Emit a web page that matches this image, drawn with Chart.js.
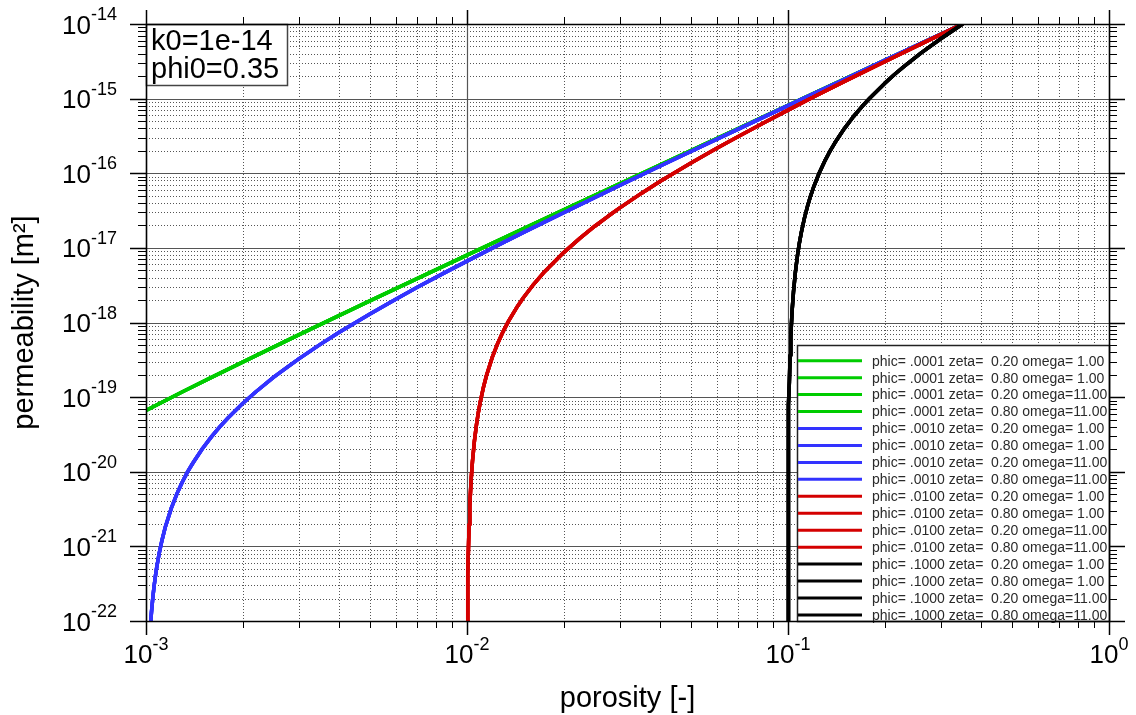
<!DOCTYPE html>
<html>
<head>
<meta charset="utf-8">
<script src="https://cdn.jsdelivr.net/npm/chart.js@4.4.1/dist/chart.umd.min.js"></script>
<style>
html, body { margin: 0; padding: 0; background: #fff; }
</style>
</head>
<body>
<canvas id="permChart" width="1136" height="715"></canvas>
<script>
// curves (porosity [-] vs permeability [m2])
const greenPhi = [0.001, 0.0013, 0.0016, 0.002, 0.003, 0.005, 0.01, 0.02, 0.05, 0.1, 0.2, 0.35];
const greenK   = [6.62e-20, 1.18e-19, 1.84e-19, 2.95e-19, 6.87e-19, 1.96e-18, 8.0e-18, 3.23e-17, 2.03e-16, 8.15e-16, 3.26e-15, 1e-14];

const bluePhi = [0.0010349, 0.00104, 0.00105, 0.00106, 0.00107, 0.00108, 0.0011, 0.00112, 0.00115, 0.0012, 0.00125,
                 0.0013, 0.00135, 0.0014, 0.0015, 0.0016, 0.0017, 0.0018, 0.002, 0.0022, 0.0025, 0.00275, 0.003,
                 0.0035, 0.004, 0.005, 0.006, 0.007, 0.0085, 0.01, 0.0125, 0.015, 0.02, 0.03, 0.04, 0.05, 0.07,
                 0.1, 0.15, 0.2, 0.27, 0.35];
const blueK   = [1e-22, 1.31e-22, 2.05e-22, 2.96e-22, 4.02e-22, 5.25e-22, 8.21e-22, 1.18e-21, 1.85e-21, 3.28e-21, 5.13e-21,
                 7.39e-21, 1.01e-20, 1.31e-20, 2.05e-20, 2.96e-20, 4.02e-20, 5.25e-20, 8.21e-20, 1.18e-19, 1.85e-19, 2.51e-19, 3.28e-19,
                 5.13e-19, 7.39e-19, 1.31e-18, 2.05e-18, 2.96e-18, 4.62e-18, 6.65e-18, 1.09e-17, 1.61e-17, 2.96e-17, 6.90e-17, 1.25e-16, 1.97e-16, 3.91e-16,
                 8.05e-16, 1.82e-15, 3.25e-15, 5.94e-15, 1e-14];

const redPhi = [0.010034, 0.01004, 0.01005, 0.01007, 0.0101, 0.01015, 0.0102, 0.0103, 0.0104, 0.01055, 0.0107,
                0.01085, 0.011, 0.01125, 0.0115, 0.012, 0.0125, 0.013, 0.0135, 0.01425, 0.015, 0.016, 0.0175,
                0.02, 0.0225, 0.025, 0.0275, 0.03, 0.035, 0.04, 0.05, 0.06, 0.07, 0.085, 0.1, 0.12, 0.15,
                0.2, 0.27, 0.35];
const redK   = [1e-22, 1.38e-22, 2.16e-22, 4.24e-22, 8.65e-22, 1.95e-21, 3.46e-21, 7.79e-21, 1.38e-20, 2.62e-20, 4.24e-20,
                6.25e-20, 8.65e-20, 1.35e-19, 1.95e-19, 3.46e-19, 5.41e-19, 7.79e-19, 1.06e-18, 1.56e-18, 2.16e-18, 3.11e-18, 4.87e-18,
                8.65e-18, 1.35e-17, 1.95e-17, 2.65e-17, 3.46e-17, 5.41e-17, 7.79e-17, 1.38e-16, 2.16e-16, 3.11e-16, 4.87e-16, 7.01e-16, 1.05e-15, 1.70e-15,
                3.12e-15, 5.85e-15, 1e-14];

const blackPhi = [0.100025, 0.10005, 0.1001, 0.1002, 0.1003, 0.1005, 0.1007, 0.101, 0.1015, 0.102, 0.103,
                  0.104, 0.1055, 0.107, 0.1085, 0.11, 0.1125, 0.115, 0.1175, 0.12, 0.125, 0.13, 0.135,
                  0.14, 0.15, 0.16, 0.17, 0.18, 0.2, 0.215, 0.23, 0.26, 0.3, 0.35];
const blackK   = [1e-22, 4e-22, 1.6e-21, 6.4e-21, 1.44e-20, 4e-20, 7.84e-20, 1.6e-19, 3.6e-19, 6.4e-19, 1.44e-18,
                  2.56e-18, 4.84e-18, 7.84e-18, 1.16e-17, 1.6e-17, 2.5e-17, 3.6e-17, 4.9e-17, 6.4e-17, 1.0e-16, 1.44e-16, 1.96e-16,
                  2.56e-16, 4.0e-16, 5.76e-16, 7.84e-16, 1.02e-15, 1.6e-15, 2.12e-15, 2.70e-15, 4.10e-15, 6.4e-15, 1e-14];

// legend pieces
const phicLabels = ['.0001', '.0010', '.0100', '.1000'];
const zetaLabels = ['0.20', '0.80'];
const omegaLabels = [' 1.00', '11.00'];

// axis ticks
const xMajor = [1e-3, 1e-2, 1e-1, 1];
const xExp = ['-3', '-2', '-1', '0'];
const yMajor = [1e-22, 1e-21, 1e-20, 1e-19, 1e-18, 1e-17, 1e-16, 1e-15, 1e-14];
const yExp = ['-22', '-21', '-20', '-19', '-18', '-17', '-16', '-15', '-14'];

const noteLines = ['k0=1e-14', 'phi0=0.35'];

const FONT = '"Liberation Sans", Arial, sans-serif';

const curves = [
    { phi: greenPhi, k: greenK, color: '#00cc00', order: 4 },
    { phi: bluePhi, k: blueK, color: '#3333ff', order: 3 },
    { phi: redPhi, k: redK, color: '#d40000', order: 2 },
    { phi: blackPhi, k: blackK, color: '#000000', order: 1 }
];

const datasets = [];
curves.forEach((c, ci) => {
    const pts = c.phi.map((p, i) => ({ x: p, y: c.k[i] }));
    omegaLabels.forEach(om => {
        zetaLabels.forEach(z => {
            datasets.push({
                label: 'phic= ' + phicLabels[ci] + ' zeta=  ' + z + ' omega=' + om,
                data: pts,
                borderColor: c.color,
                backgroundColor: c.color,
                borderWidth: 3.5,
                pointRadius: 0,
                showLine: true,
                order: c.order
            });
        });
    });
});

function minorValues(majors) {
    const out = [];
    for (let i = 0; i < majors.length - 1; i++) {
        for (let m = 2; m <= 9; m++) out.push(majors[i] * m);
    }
    return out;
}

function seg(ctx, x1, y1, x2, y2) {
    ctx.beginPath();
    ctx.moveTo(x1, y1);
    ctx.lineTo(x2, y2);
    ctx.stroke();
}

// grid, frame, ticks, labels, note box and legend
const framePlugin = {
    id: 'frame',
    beforeDatasetsDraw(chart) {
        const { ctx, chartArea: a, scales: { x, y } } = chart;
        ctx.save();
        ctx.lineWidth = 1;
        ctx.strokeStyle = '#555';
        ctx.setLineDash([1, 2]);
        minorValues(xMajor).forEach(v => {
            const px = Math.round(x.getPixelForValue(v)) + 0.5;
            seg(ctx, px, a.top, px, a.bottom);
        });
        minorValues(yMajor).forEach(v => {
            const py = Math.round(y.getPixelForValue(v)) + 0.5;
            seg(ctx, a.left, py, a.right, py);
        });
        ctx.setLineDash([]);
        ctx.strokeStyle = '#555';
        ctx.lineWidth = 1.2;
        xMajor.forEach(v => {
            const px = Math.round(x.getPixelForValue(v)) + 0.5;
            seg(ctx, px, a.top, px, a.bottom);
        });
        yMajor.forEach(v => {
            const py = Math.round(y.getPixelForValue(v)) + 0.5;
            seg(ctx, a.left, py, a.right, py);
        });
        ctx.restore();
    },
    afterDatasetsDraw(chart) {
        const { ctx, chartArea: a, scales: { x, y } } = chart;
        ctx.save();

        // ticks outside the frame
        ctx.strokeStyle = '#000';
        ctx.lineWidth = 1;
        minorValues(xMajor).forEach(v => {
            const px = Math.round(x.getPixelForValue(v)) + 0.5;
            seg(ctx, px, a.bottom, px, a.bottom + 7);
            seg(ctx, px, a.top, px, a.top - 7);
        });
        minorValues(yMajor).forEach(v => {
            const py = Math.round(y.getPixelForValue(v)) + 0.5;
            seg(ctx, a.left, py, a.left - 8, py);
            seg(ctx, a.right, py, a.right + 8, py);
        });
        ctx.lineWidth = 1.5;
        xMajor.forEach(v => {
            const px = Math.round(x.getPixelForValue(v)) + 0.5;
            seg(ctx, px, a.bottom, px, a.bottom + 14);
            seg(ctx, px, a.top, px, a.top - 14);
        });
        yMajor.forEach(v => {
            const py = Math.round(y.getPixelForValue(v)) + 0.5;
            seg(ctx, a.left, py, a.left - 16, py);
            seg(ctx, a.right, py, a.right + 16, py);
        });

        // note box
        ctx.fillStyle = '#fff';
        ctx.fillRect(a.left, a.top, 141, 61);
        ctx.strokeStyle = '#444';
        ctx.lineWidth = 1.5;
        ctx.strokeRect(a.left + 0.5, a.top + 0.5, 141, 61);
        ctx.fillStyle = '#000';
        ctx.font = '29px ' + FONT;
        ctx.textAlign = 'left';
        ctx.textBaseline = 'alphabetic';
        noteLines.forEach((t, i) => ctx.fillText(t, a.left + 5, a.top + 26 + i * 28));

        // legend
        const lw = 312, lh = 276;
        const lx = a.right - lw, ly = a.bottom - lh;
        ctx.fillStyle = '#fff';
        ctx.fillRect(lx, ly, lw, lh);
        ctx.strokeStyle = '#222';
        ctx.lineWidth = 1.5;
        ctx.strokeRect(lx + 0.5, ly + 0.5, lw, lh);
        ctx.font = '14px ' + FONT;
        ctx.textBaseline = 'middle';
        chart.data.datasets.forEach((ds, i) => {
            const yy = ly + 15.7 + i * 16.95;
            ctx.strokeStyle = ds.borderColor;
            ctx.lineWidth = 3;
            seg(ctx, lx + 1, yy, lx + 65, yy);
            ctx.fillStyle = '#2a2a2a';
            ctx.fillText(ds.label, lx + 75, yy + 1);
        });

        // frame
        ctx.strokeStyle = '#000';
        ctx.lineWidth = 1.5;
        ctx.strokeRect(a.left + 0.5, a.top + 0.5, a.right - a.left, a.bottom - a.top);

        // tick labels: 10 with superscript exponent
        ctx.fillStyle = '#000';
        ctx.textBaseline = 'alphabetic';
        ctx.textAlign = 'left';
        const big = '26px ' + FONT, small = '18px ' + FONT;
        xMajor.forEach((v, i) => {
            ctx.font = big;
            const wb = ctx.measureText('10').width;
            ctx.font = small;
            const we = ctx.measureText(xExp[i]).width;
            const x0 = x.getPixelForValue(v) - (wb + we) / 2;
            ctx.font = big;
            ctx.fillText('10', x0, a.bottom + 41.5);
            ctx.font = small;
            ctx.fillText(xExp[i], x0 + wb, a.bottom + 29);
        });
        yMajor.forEach((v, i) => {
            const py = y.getPixelForValue(v);
            ctx.font = small;
            const we = ctx.measureText(yExp[i]).width;
            ctx.font = big;
            const wb = ctx.measureText('10').width;
            const x1 = a.left - 29;
            ctx.fillText('10', x1 - we - wb, py + 9.5);
            ctx.font = small;
            ctx.fillText(yExp[i], x1 - we, py - 4);
        });

        // axis titles
        ctx.font = '29px ' + FONT;
        ctx.textAlign = 'center';
        ctx.fillText('porosity [-]', (a.left + a.right) / 2, 707);
        ctx.translate(33, (a.top + a.bottom) / 2);
        ctx.rotate(-Math.PI / 2);
        ctx.fillText('permeability [m\u00b2]', 0, 0);
        ctx.restore();
    }
};

const permChart = new Chart(document.getElementById('permChart').getContext('2d'), {
    type: 'scatter',
    data: { datasets: datasets },
    options: {
        responsive: false,
        animation: false,
        layout: { padding: { left: 146, right: 27, top: 24, bottom: 94 } },
        elements: { line: { tension: 0, borderJoinStyle: 'round' } },
        plugins: { legend: { display: false }, tooltip: { enabled: false } },
        scales: {
            x: {
                type: 'logarithmic', min: 1e-3, max: 1,
                ticks: { display: false },
                grid: { display: false },
                border: { display: false },
                afterFit: s => { s.height = 0; }
            },
            y: {
                type: 'logarithmic', min: 1e-22, max: 1e-14,
                ticks: { display: false },
                grid: { display: false },
                border: { display: false },
                afterFit: s => { s.width = 0; }
            }
        }
    },
    plugins: [framePlugin]
});
</script>
</body>
</html>
